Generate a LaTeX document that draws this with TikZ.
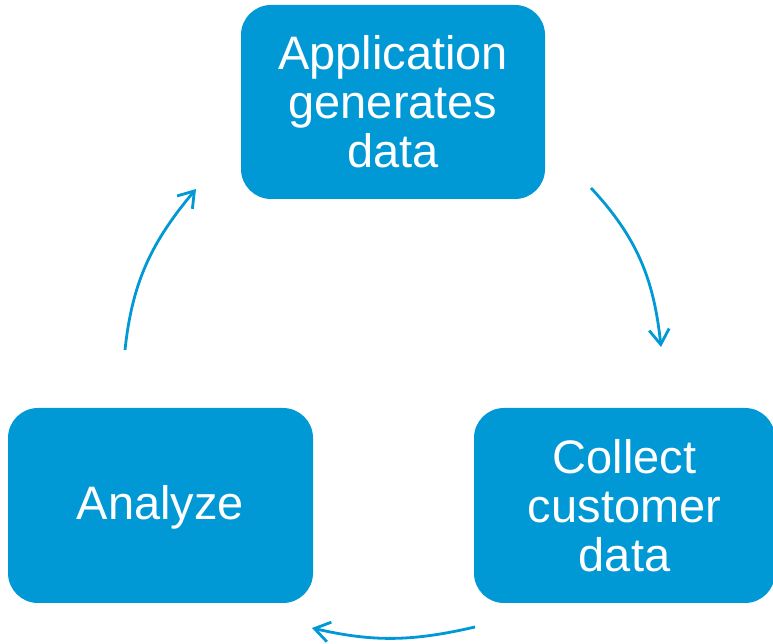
\documentclass[tikz,border=0pt]{standalone}
\usepackage{fontspec}
\setmainfont{Liberation Sans}
\usetikzlibrary{arrows.meta}
\definecolor{cyclblue}{RGB}{0,152,213}
\tikzset{
  stagebox/.style={fill=cyclblue, draw=none, rounded corners=30pt, inner sep=0pt,
    text=white, align=center, font=\fontsize{47}{49}\selectfont},
  cycarrow/.style={draw=cyclblue, line width=2.8pt, -{Straight Barb[length=15pt,width=20pt,line width=2.8pt]}}
}
\begin{document}
\begin{tikzpicture}[x=1pt,y=1pt]
\useasboundingbox (0,0) rectangle (773,644);
\node[stagebox, minimum width=304pt, minimum height=194pt] (app) at (393,542) {Application\\generates\\data};
\node[stagebox, minimum width=301pt, minimum height=195pt] (collect) at (624.5,138.5) {Collect\\customer\\data};
\node[stagebox, minimum width=305pt, minimum height=195pt, text depth=8pt, text height=36pt] (analyze) at (160.5,138.5) {Analyze};
\coordinate (a1s) at (591,456);
\coordinate (a1e) at (661,297);
\coordinate (a2s) at (475,17);
\coordinate (a2e) at (312,16);
\coordinate (a3s) at (125,294);
\coordinate (a3e) at (196,455);
\draw[cycarrow] (a1s) to[out=-47,in=96] (a1e);
\draw[cycarrow] (a2s) to[out=-167,in=-13] (a2e);
\draw[cycarrow] (a3s) to[out=84,in=-130] (a3e);
\end{tikzpicture}
\end{document}
